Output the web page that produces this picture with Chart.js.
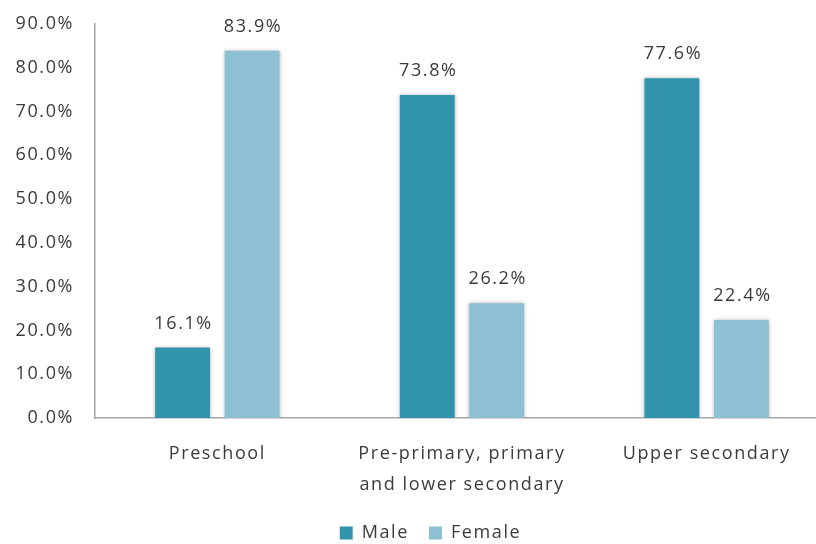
<!DOCTYPE html>
<html>
<head>
<meta charset="utf-8">
<script src="https://cdn.jsdelivr.net/npm/chart.js@4"></script>
<style>
  html, body { margin: 0; padding: 0; background: #fff; overflow: hidden; }
  #wrap { width: 829px; height: 544px; }
</style>
</head>
<body>
<div id="wrap"><canvas id="chart"></canvas></div>
<script>
const categories = ['Preschool', ['Pre-primary, primary', 'and lower secondary'], 'Upper secondary'];
const seriesNames = ['Male', 'Female'];
const maleValues = [16.1, 73.8, 77.6];
const femaleValues = [83.9, 26.2, 22.4];
const yTicks = [0, 10, 20, 30, 40, 50, 60, 70, 80, 90];

const TEXT = '#3b3b3b';
const AXIS = '#a6a6a6';
const FONT = '"Open Sans", "Noto Sans", sans-serif';
const SPACING = '1.6px';
Chart.defaults.font.family = FONT;
Chart.defaults.font.size = 18;
Chart.defaults.color = TEXT;

// the source text is a bit spaced out
const spacing = {
  id: 'spacing',
  beforeLayout(chart) { chart.ctx.letterSpacing = SPACING; },
  beforeDraw(chart) { chart.ctx.letterSpacing = SPACING; },
  // nudge the legend to where it sits in the source
  afterLayout(chart) {
    const lg = chart.legend;
    lg.left += 16; lg.right += 16;
    lg.top += 8; lg.bottom += 8;
  },
};

// soft shadow round the bars
const barShadow = {
  id: 'barShadow',
  beforeDatasetDraw(chart) {
    const ctx = chart.ctx;
    ctx.save();
    ctx.shadowColor = 'rgba(0,0,0,0.28)';
    ctx.shadowBlur = 4;
  },
  afterDatasetDraw(chart) {
    chart.ctx.restore();
  },
};

// value labels above each bar
const valueLabels = {
  id: 'valueLabels',
  afterDatasetsDraw(chart) {
    const ctx = chart.ctx;
    ctx.save();
    ctx.fillStyle = TEXT;
    ctx.font = '18px ' + FONT;
    ctx.textAlign = 'center';
    ctx.textBaseline = 'alphabetic';
    chart.data.datasets.forEach((ds, i) => {
      chart.getDatasetMeta(i).data.forEach((bar, j) => {
        ctx.fillText(ds.data[j].toFixed(1) + '%', bar.x + 1, bar.y - 19);
      });
    });
    ctx.restore();
  },
};

new Chart(document.getElementById('chart'), {
  type: 'bar',
  data: {
    labels: categories,
    datasets: [
      { label: seriesNames[0], data: maleValues, backgroundColor: '#3293ad' },
      { label: seriesNames[1], data: femaleValues, backgroundColor: '#8ec0d4' },
    ],
  },
  options: {
    responsive: true,
    maintainAspectRatio: false,
    animation: false,
    events: [],
    datasets: { bar: { categoryPercentage: 0.568, barPercentage: 0.79 } },
    layout: { padding: { top: 24, left: 0, right: 0, bottom: 0 } },
    plugins: {
      legend: {
        position: 'bottom',
        labels: { boxWidth: 13, boxHeight: 13, padding: 20, color: TEXT, font: { size: 18 } },
      },
      tooltip: { enabled: false },
    },
    scales: {
      x: {
        grid: { display: false, drawTicks: false },
        border: { display: true, color: AXIS, width: 1.5 },
        ticks: { padding: 20, color: TEXT, font: { size: 18, lineHeight: 1.72 }, maxRotation: 0 },
        afterFit: (s) => { s.height = 78; },
      },
      y: {
        min: 0,
        max: 90,
        grid: { display: false, drawTicks: false },
        border: { display: true, color: AXIS, width: 1.5 },
        afterBuildTicks: (s) => { s.ticks = yTicks.map(v => ({ value: v })); },
        ticks: {
          padding: 21,
          color: TEXT,
          font: { size: 18, lineHeight: 1.2 },
          callback: (v) => v.toFixed(1) + '%',
        },
        afterFit: (s) => { s.width = 95; s.paddingTop = 0; s.paddingBottom = 0; },
      },
    },
  },
  plugins: [spacing, barShadow, valueLabels],
});
</script>
</body>
</html>
